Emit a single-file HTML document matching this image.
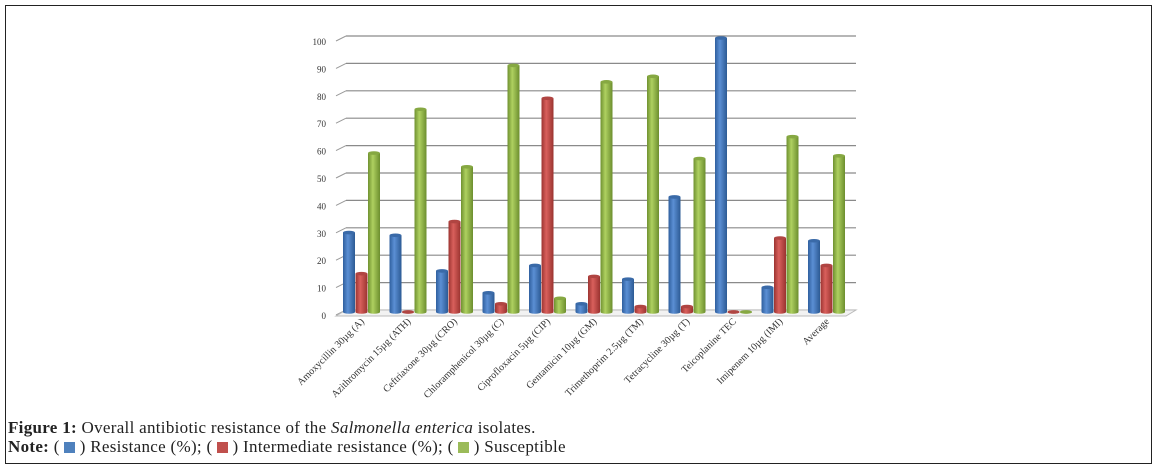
<!DOCTYPE html>
<html><head><meta charset="utf-8"><style>
body{margin:0;background:#fff;width:1156px;height:470px;overflow:hidden;font-family:"Liberation Serif",serif;}
#frame{position:absolute;left:5px;top:5px;width:1145px;height:457px;border:1.5px solid #222;}
.cap{position:absolute;left:8px;font-size:17px;color:#222;white-space:nowrap;letter-spacing:0.3px;}
.sw{display:inline-block;width:11px;height:11px;vertical-align:-1px;}
</style></head><body>
<div id="frame"></div>
<svg id="chart" width="1156" height="470" style="position:absolute;left:0;top:0">
<defs>
<linearGradient id="gb" x1="0" x2="1"><stop offset="0" stop-color="#2f5f9e"/><stop offset="0.4" stop-color="#5b8fd4"/><stop offset="1" stop-color="#2c5a94"/></linearGradient>
<linearGradient id="gr" x1="0" x2="1"><stop offset="0" stop-color="#9c3431"/><stop offset="0.4" stop-color="#d9605c"/><stop offset="1" stop-color="#9a3330"/></linearGradient>
<linearGradient id="gg" x1="0" x2="1"><stop offset="0" stop-color="#6f9130"/><stop offset="0.4" stop-color="#aed060"/><stop offset="1" stop-color="#6c8e2e"/></linearGradient>
</defs>
</svg>
<div class="cap" style="top:418px"><b>Figure 1:</b> Overall antibiotic resistance of the <i>Salmonella enterica</i> isolates.</div>
<div class="cap" style="top:437px"><b>Note:</b> ( <span class="sw" style="background:#4f81bd"></span> ) Resistance (%); ( <span class="sw" style="background:#c0504d"></span> ) Intermediate resistance (%); ( <span class="sw" style="background:#9bbb59"></span> ) Susceptible</div>
<script>
const categories=["Amoxycillin  30µg (A)","Azithromycin 15µg  (ATH)","Ceftriaxone  30µg (CRO)","Chloramphenicol 30µg (C)","Ciprofloxacin  5µg (CIP)","Gentamicin 10µg (GM)","Trimethoprim  2.5µg (TM)","Tetracycline  30µg (T)","Teicoplanine TEC","Imipenem  10µg (IMI)","Average"];
const resistance=[29,28,15,7,17,3,12,42,100,9,26];
const intermediate=[14,0,33,3,78,13,2,2,0,27,17];
const susceptible=[58,74,53,90,5,84,86,56,0,64,57];
const yTicks=[0,10,20,30,40,50,60,70,80,90,100];
const NS="http://www.w3.org/2000/svg";
const svg=document.getElementById('chart');
const base=312, k=2.74, x0=343, gw=46.5, bw=12.5, dx=10, dy=5;
function y(v){return base-v*k;}
function gx(i){return x0+i*gw;}
function mk(t,a){const e=document.createElementNS(NS,t);for(const n in a)e.setAttribute(n,a[n]);svg.appendChild(e);return e;}
yTicks.forEach(v=>{
  const yy=y(v)-2;
  const g=mk('line',{x1:336,y1:yy+dy,x2:336+dx,y2:yy,stroke:'#999','stroke-width':1});
  
  
  const l=mk('line',{x1:336+dx,y1:yy,x2:856,y2:yy,stroke:v==0?'#ccc':'#8a8a8a','stroke-width':1.2});
  
  
  const t=mk('text',{x:326,y:yy+9,'font-size':9,'text-anchor':'end',fill:'#333','font-family':'Liberation Serif, serif'});
  t.textContent=v;
  
  
});
const fl=mk('polygon',{points:`336,${base+dy-1} 846,${base+dy-1} 856,${base-2} 346,${base-2}`,fill:'#f2f2f2',stroke:'#bbb','stroke-width':1});


const series=[[resistance,'url(#gb)','#3a6aa8','resistance'],[intermediate,'url(#gr)','#b04542','intermediate'],[susceptible,'url(#gg)','#86a842','susceptible']];
categories.forEach((c,i)=>{
  series.forEach((s,j)=>{
    const v=s[0][i];
    const x=gx(i)+j*bw;
    const top=y(v);
    const b=mk('rect',{x:x,y:top,width:bw-0.5,height:base-top,fill:s[1]});
    
    
    mk('ellipse',{cx:x+bw/2-0.25,cy:base,rx:bw/2-0.25,ry:1.8,fill:s[1]});
    const cap=mk('ellipse',{cx:x+bw/2-0.25,cy:top,rx:bw/2-0.25,ry:1.8,fill:s[2]});
    
    
  });
  const cx=gx(i)+bw*1.5+3, cy=322;
  const t=mk('text',{x:cx,y:cy,'font-size':10,'text-anchor':'end',fill:'#333','font-family':'Liberation Serif, serif',transform:`rotate(-45 ${cx} ${cy})`});
  t.textContent=c;
  
  
});
</script>
</body></html>
